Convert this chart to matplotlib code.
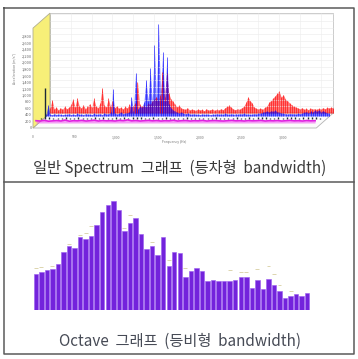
import numpy as np
import matplotlib.pyplot as plt
import matplotlib.transforms as mtransforms
from matplotlib.patches import Polygon

plt.rcParams['font.family'] = ['Noto Sans CJK KR', 'DejaVu Sans']

# 스펙트럼 값 (25 Hz 간격)
red_vals = [150, 400, 120, 180, 90, 160, 110, 200, 130, 170,
            260, 420, 180, 460, 220, 150, 250, 130, 200, 280,
            180, 450, 210, 160, 300, 770, 240, 190, 450, 200,
            350, 160, 220, 140, 180, 120, 200, 150, 260, 180,
            220, 300, 950, 260, 200, 240, 180, 300, 260, 350,
            420, 500, 380, 550, 1256, 480, 1216, 600, 420, 350,
            260, 190, 230, 150, 130, 110, 160, 90, 120, 100,
            80, 120, 90, 110, 70, 130, 90, 100, 120, 80,
            110, 90, 130, 100, 160, 200, 240, 170, 120, 100,
            130, 110, 160, 200, 320, 490, 380, 300, 180, 140,
            120, 150, 110, 170, 200, 320, 380, 450, 520, 600,
            670, 480, 560, 420, 380, 300, 250, 200, 180, 150,
            130, 160, 110, 140, 100, 150, 120, 130, 110, 140,
            120, 160, 130, 170, 150, 180, 140]
blue_vals = [60, 334, 50, 40, 70, 45, 60, 50, 40, 55,
             50, 70, 45, 60, 40, 80, 50, 60, 45, 70,
             55, 60, 45, 80, 50, 60, 70, 45, 90, 60,
             70, 110, 820, 90, 60, 80, 120, 70, 90, 100,
             120, 578, 150, 1316, 200, 300, 260, 420, 1100, 450,
             1450, 420, 2159, 480, 2796, 520, 1960, 450, 1800, 380,
             250, 180, 140, 110, 90, 120, 80, 70, 90, 60,
             55, 70, 50, 60, 45, 65, 50, 60, 55, 45,
             60, 50, 70, 55, 65, 50, 80, 60, 55, 70,
             50, 65, 55, 70, 60, 80, 55, 65, 50, 60,
             70, 60, 80, 90, 110, 130, 150, 120, 160, 140,
             170, 130, 110, 90, 80, 70, 60, 75, 65, 70,
             60, 80, 70, 90, 110, 130, 100, 150, 120, 170,
             140, 180, 130, 160, 120, 100, 80]
# 50 Hz 간격
black_vals = [40, 930, 50, 35, 45, 30, 50, 40, 35, 55,
              40, 45, 30, 50, 40, 60, 45, 35, 50, 40,
              55, 45, 70, 50, 60, 45, 40, 50, 35, 45,
              50, 40, 35, 45, 40, 50, 35, 45, 40, 30,
              45, 35, 50, 40, 45, 35, 40, 50, 45, 40,
              55, 45, 60, 50, 55, 45, 40, 50, 45, 55,
              50, 60, 45, 55, 50, 60, 55, 45]
magenta_vals = [70, 60, 80, 55, 65, 75, 60, 90, 55, 70,
                65, 80, 60, 70, 85, 60, 75, 65, 70, 60,
                80, 70, 95, 65, 75, 60, 70, 80, 65, 75,
                60, 70, 65, 85, 60, 70, 75, 60, 70, 65,
                80, 60, 70, 75, 65, 60, 70, 80, 65, 70,
                60, 75, 65, 70, 80, 60, 70, 65, 75, 60,
                70, 80, 65, 70, 60, 75, 65, 70]

red_f = np.arange(len(red_vals)) * 25
blue_f = np.arange(len(blue_vals)) * 25
black_f = np.arange(len(black_vals)) * 50
magenta_f = np.arange(len(magenta_vals)) * 50

yticks = list(range(0, 2801, 200))
xticks = list(range(0, 3001, 500))

# 옥타브 밴드 값
nan = np.nan
octave_vals = [35.7, 38.3, 40.3, 41.3, 45.7, 58.3, 64, 62, 72.7, 71,
               74.3, 85.3, 98.3, 105, 109, 100, 79.3, 87.3, 91.7, 76,
               61.3, 63.7, 55, 72.7, 43.7, 58.3, 57, 33, 39.3, 42.3,
               38.7, 29.3, 30.3, 29.3, 29.3, 29.3, 30, 33, 33, 22.3,
               30, 20.7, 31.3, 25.3, 19, 12.3, 14.3, 16.3, 13.7, 17.3]
octave_max = [42, 43.5, nan, 44, nan, nan, 66, nan, 75, 77,
              84, nan, nan, nan, nan, nan, 82, 95, nan, nan,
              nan, 68, nan, nan, 50, nan, nan, 42, nan, nan,
              nan, nan, nan, nan, nan, 40, nan, 38, 38, nan,
              41, nan, 44, 36, 25, nan, 19, nan, nan, nan]
bands = np.arange(1, len(octave_vals) + 1)

caption_top = "일반 Spectrum  그래프  (등차형  bandwidth)"
caption_bottom = "Octave  그래프  (등비형  bandwidth)"

W, H = 358, 359
fig = plt.figure(figsize=(W / 100, H / 100), dpi=100)

# 배경 (테두리, 캡션) - 픽셀 좌표
bg = fig.add_axes([0, 0, 1, 1])
bg.set_xlim(0, W)
bg.set_ylim(H, 0)
bg.axis('off')
edge = '#5a5a5a'
bg.plot([3.5, 353.5, 353.5, 3.5, 3.5], [8, 8, 353.5, 353.5, 8], color=edge, lw=1.1)
bg.plot([3.5, 353.5], [182, 182], color=edge, lw=1.1)
bg.text(180, 168, caption_top, ha='center', va='center', fontsize=11, color='#3a3a3a')
bg.text(180, 341, caption_bottom, ha='center', va='center', fontsize=11, color='#474b56')

# 위: 스펙트럼 (의사 3D)
ax = fig.add_axes([33 / W, 1 - 128 / H, 283.3 / W, 92 / H])
ax.set_xlim(0, 3400)
ax.set_ylim(0, 2800)
ax.patch.set_visible(False)
for s in ax.spines.values():
    s.set_visible(False)

back = (17, 15)
def shifted(dx, dy):
    return mtransforms.offset_copy(ax.transData, fig=fig, x=dx, y=dy, units='dots')

def to_px(x, y, dx=0, dy=0):
    px, py = ax.transData.transform((x, y))
    return (px + dx, py + dy)

top = 3040
ident = mtransforms.IdentityTransform()
wall = Polygon([to_px(0, 0, *back), to_px(3400, 0, *back), to_px(3400, top, *back), to_px(0, top, *back)],
               closed=True, facecolor='white', edgecolor='#c4c4c4', lw=0.6, transform=ident, clip_on=False)
ax.add_patch(wall)
floor = Polygon([to_px(0, 0), to_px(3400, 0), to_px(3400, 0, *back), to_px(0, 0, *back)],
                closed=True, facecolor='#fbfbfb', edgecolor='#b4b4b4', lw=0.6, transform=ident, clip_on=False)
ax.add_patch(floor)
side = Polygon([to_px(0, 0), to_px(0, 0, *back), to_px(0, top, *back), to_px(0, top)],
               closed=True, facecolor='#f7ef78', edgecolor='#b0ae90', lw=0.6, transform=ident, clip_on=False)
ax.add_patch(side)

tb = shifted(*back)
ax.hlines(list(range(200, top, 200)), 0, 3400, colors='#ebebeb', lw=0.4, transform=tb, clip_on=False)
ax.vlines(list(range(250, 3400, 250)), 0, top, colors='#ededed', lw=0.4, transform=tb, clip_on=False)

series = [
    (red_f, red_vals, '#ff0000', (17, 15)),
    (blue_f, blue_vals, '#0000ff', (13, 12)),
]
for f, v, c, off in series:
    tr = shifted(*off)
    ax.fill_between(f, 0, v, color=c, alpha=0.55, lw=0, transform=tr, clip_on=False)
    ax.vlines(f, 0, v, colors=c, lw=0.5, alpha=0.8, transform=tr, clip_on=False)

tr = shifted(8, 9)
ax.vlines(black_f, 0, black_vals, colors='#1c2a38', lw=1.0, transform=tr, clip_on=False)

tr = shifted(3, 5)
ax.fill_between(magenta_f, 0, magenta_vals, color='#f060f0', alpha=0.6, lw=0, transform=tr, clip_on=False)
ax.plot(magenta_f, magenta_vals, color='#e020e0', lw=1.2, transform=tr, clip_on=False)

ax.set_yticks(yticks)
ax.set_yticklabels([f"{v:,}" for v in yticks])
ax.set_xticks(xticks)
ax.set_xticklabels([f"{v:,}" for v in xticks])
ax.tick_params(axis='y', length=0, pad=1, labelsize=2.8, labelcolor='#666666')
ax.tick_params(axis='x', length=0, pad=5, labelsize=2.5, labelcolor='#777777')
ax.set_xlabel("Frequency (Hz)", fontsize=2.5, color='#777777', labelpad=1)
ax.set_ylabel("Acceleration (m/s²)", fontsize=2.5, color='#777777', labelpad=3)
ax.yaxis.set_label_coords(-0.058, 0.65)

# 아래: 옥타브 막대
ax2 = fig.add_axes([33 / W, 1 - 310 / H, 277 / W, 110 / H])
ax2.set_xlim(0.5, len(octave_vals) + 0.5)
ax2.set_ylim(0, 110)
ax2.axis('off')
ax2.bar(bands, octave_vals, width=0.8, color='#7323dc', edgecolor='#9a5cf0', lw=0.4)
ax2.hlines(octave_max, bands - 0.35, bands + 0.35, colors='#dcd5ae', lw=0.7)

fig.savefig('out.png', dpi=100)
